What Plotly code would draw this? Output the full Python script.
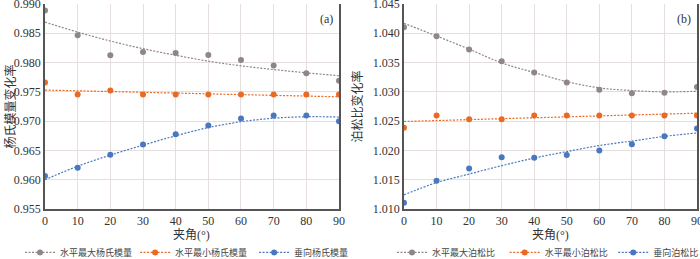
import plotly.graph_objects as go

angles = [0, 10, 20, 30, 40, 50, 60, 70, 80, 90]

# Panel (a): Young's modulus change rate
ym_hmax = [0.9889, 0.98466, 0.98125, 0.98182, 0.98165, 0.9813, 0.98045, 0.9795, 0.97818, 0.97688]
ym_hmin = [0.97659, 0.97455, 0.97523, 0.97455, 0.97455, 0.97455, 0.97455, 0.97455, 0.97455, 0.97455]
ym_vert = [0.96063, 0.96205, 0.96426, 0.96602, 0.96777, 0.96926, 0.97045, 0.97097, 0.97097, 0.9700]
ym_hmax_trend = [0.9869, 0.9852, 0.98368, 0.98237, 0.98125, 0.98024, 0.97944, 0.97881, 0.97825, 0.97775]
ym_hmin_trend = [0.9753, 0.97518, 0.97505, 0.97492, 0.97479, 0.97466, 0.97453, 0.9744, 0.97428, 0.97415]
ym_vert_trend = [0.9600, 0.9623, 0.9642, 0.9659, 0.9675, 0.9689, 0.9699, 0.9705, 0.97075, 0.9707]

# Panel (b): Poisson's ratio change rate
pr_hmax = [1.04102, 1.03949, 1.03722, 1.03523, 1.0333, 1.03159, 1.03034, 1.02977, 1.02983, 1.03085]
pr_hmin = [1.02386, 1.02597, 1.02534, 1.02534, 1.02597, 1.02597, 1.02597, 1.02597, 1.02597, 1.02597]
pr_vert = [1.01107, 1.01483, 1.01691, 1.01882, 1.01876, 1.01921, 1.0200, 1.02107, 1.02242, 1.02376]
pr_hmax_trend = [1.0417, 1.03954, 1.03729, 1.03494, 1.0333, 1.03175, 1.03068, 1.03022, 1.0300, 1.0301]
pr_hmin_trend = [1.02494, 1.0251, 1.02526, 1.02542, 1.02558, 1.02573, 1.02589, 1.02605, 1.0262, 1.02636]
pr_vert_trend = [1.01242, 1.0145, 1.01596, 1.0174, 1.0187, 1.0198, 1.02084, 1.0216, 1.0224, 1.02298]

names_a = ["水平最大杨氏模量", "水平最小杨氏模量", "垂向杨氏模量"]
names_b = ["水平最大泊松比", "水平最小泊松比", "垂向泊松比"]
colors = ["#8f8787", "#ea6a24", "#4a78c0"]

yticks_a = [0.955, 0.960, 0.965, 0.970, 0.975, 0.980, 0.985, 0.990]
yticks_b = [1.010, 1.015, 1.020, 1.025, 1.030, 1.035, 1.040, 1.045]

x_title = "夹角(°)"
y_titles = ["杨氏模量变化率", "泊松比变化率"]
panel_tags = ["(a)", "(b)"]

SERIF = "Liberation Serif, Noto Sans CJK SC, serif"
LEG = "Noto Sans CJK SC, Liberation Serif, serif"
DOT = "2px,1.5px"

# one legend box per entry, placed under its panel
legend_ids_a = ["legend", "legend2", "legend3"]
legend_ids_b = ["legend4", "legend5", "legend6"]
legend_x_a = [0.0286, 0.193, 0.363]
legend_x_b = [0.560, 0.721, 0.876]

fig = go.Figure()

def add_panel(pts, trends, names, xa, ya, legs):
    for p, t, n, c, lg in zip(pts, trends, names, colors, legs):
        fig.add_trace(go.Scatter(x=angles, y=t, mode="lines", xaxis=xa, yaxis=ya,
                                 line=dict(color=c, width=1.2, dash=DOT, shape="spline"),
                                 showlegend=False, hoverinfo="skip"))
        fig.add_trace(go.Scatter(x=angles, y=p, mode="markers", xaxis=xa, yaxis=ya,
                                 marker=dict(color=c, size=6), showlegend=False, name=n))
        fig.add_trace(go.Scatter(x=[None], y=[None], mode="lines+markers", xaxis=xa, yaxis=ya,
                                 line=dict(color=c, width=1.2, dash=DOT),
                                 marker=dict(color=c, size=6), name=n, legend=lg))

add_panel([ym_hmax, ym_hmin, ym_vert], [ym_hmax_trend, ym_hmin_trend, ym_vert_trend],
          names_a, "x", "y", legend_ids_a)
add_panel([pr_hmax, pr_hmin, pr_vert], [pr_hmax_trend, pr_hmin_trend, pr_vert_trend],
          names_b, "x2", "y2", legend_ids_b)

grid = "#e6dede"
axcol = "#555555"

xcommon = dict(range=[0, 90], tickvals=angles, showgrid=True, gridcolor=grid, gridwidth=1,
               showline=True, linecolor=axcol, linewidth=1.5, ticks="", zeroline=False,
               ticklabeloverflow="allow",
               tickfont=dict(family=SERIF, size=12, color="#333"), automargin=False)
ycommon = dict(domain=[0, 1], showgrid=True, gridcolor=grid, gridwidth=1, showline=True,
               linecolor=axcol, linewidth=1.5, mirror=True, ticks="", zeroline=False,
               ticklabeloverflow="allow",
               tickformat=".3f", tickfont=dict(family=SERIF, size=12, color="#333"),
               automargin=False)

legends = {}
for lid, lx in zip(legend_ids_a + legend_ids_b, legend_x_a + legend_x_b):
    legends[lid] = dict(orientation="h", x=lx, xref="container", y=-0.141, yref="paper",
                        xanchor="left", yanchor="top", itemwidth=30,
                        font=dict(family=LEG, size=9, color="#444"),
                        bgcolor="rgba(0,0,0,0)")

annotations = []
for xa, ya, tag, yt, ytx in zip(["x", "x2"], ["y", "y2"], panel_tags, y_titles, [-0.119, -0.160]):
    annotations.append(dict(text=tag, xref=xa + " domain", yref=ya + " domain", x=0.985, y=0.97,
                            xanchor="right", yanchor="top", showarrow=False,
                            font=dict(family=SERIF, size=12, color="#333")))
    annotations.append(dict(text=x_title, xref=xa + " domain", yref=ya + " domain", x=0.5, y=-0.128,
                            xanchor="center", yanchor="middle", showarrow=False,
                            font=dict(family=SERIF, size=12, color="#333")))
    annotations.append(dict(text=yt, xref=xa + " domain", yref=ya + " domain", x=ytx, y=0.5,
                            xanchor="center", yanchor="middle", textangle=-90, showarrow=False,
                            font=dict(family=SERIF, size=12, color="#333")))

fig.update_layout(
    width=700, height=259,
    margin=dict(l=45, r=3, t=4, b=50, autoexpand=False),
    paper_bgcolor="white", plot_bgcolor="white",
    xaxis=dict(domain=[0.0, 0.4509], anchor="y", **xcommon),
    xaxis2=dict(domain=[0.5506, 1.0], anchor="y2", **xcommon),
    yaxis=dict(anchor="x", range=[0.955, 0.990], tickvals=yticks_a, **ycommon),
    yaxis2=dict(anchor="x2", range=[1.010, 1.045], tickvals=yticks_b, **ycommon),
    annotations=annotations,
    **legends,
)

fig.write_html("out.html", config={"displayModeBar": False},
               post_script="document.body.style.margin='0';")
